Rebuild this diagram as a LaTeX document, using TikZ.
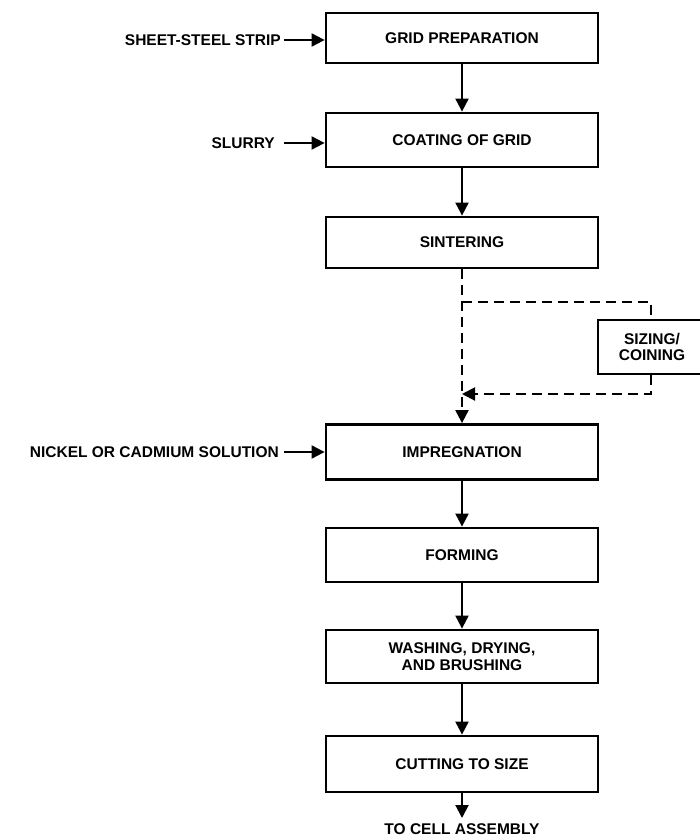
\documentclass[tikz,border=0pt]{standalone}
\usepackage{fontspec}
\setmainfont{Liberation Sans}
\usetikzlibrary{arrows.meta}
\begin{document}
\begin{tikzpicture}[x=1pt,y=-1pt,
  stepbox/.style={draw,line width=2.8pt,minimum width=272pt,inner sep=0pt,align=center,font=\fontsize{15.5}{16.5}\selectfont\bfseries},
  lbl/.style={font=\fontsize{15.5}{16.5}\selectfont\bfseries,inner sep=0pt},
  conn/.style={line width=2pt,-{Triangle[length=13pt,width=13pt]}},
  dconn/.style={line width=2pt,dash pattern=on 10pt off 6pt},
]
\useasboundingbox (0,0) rectangle (700,840);
\node[stepbox,minimum height=50pt] (b1) at (462,38) {GRID PREPARATION};
\node[stepbox,minimum height=54pt] (b2) at (462,140) {COATING OF GRID};
\node[stepbox,minimum height=51pt] (b3) at (462,242.5) {SINTERING};
\node[stepbox,minimum height=55pt] (b4) at (462,452) {IMPREGNATION};
\node[stepbox,minimum height=54pt] (b5) at (462,555) {FORMING};
\node[stepbox,minimum height=53pt] (b6) at (462,656.5) {WASHING, DRYING,\\AND BRUSHING};
\node[stepbox,minimum height=56pt] (b7) at (462,764) {CUTTING TO SIZE};
\node[stepbox,minimum width=108pt,minimum height=54pt,text width=90pt,xshift=0pt] (sz) at (652,347) {SIZING/\\COINING};

\node[lbl,anchor=east] (in1) at (281,40) {SHEET-STEEL STRIP};
\node[lbl,anchor=east] (in2) at (275,143) {SLURRY};
\node[lbl,anchor=east] (in3) at (279,452) {NICKEL OR CADMIUM SOLUTION};
\coordinate (s1) at (284,40);
\coordinate (s2) at (284,143);
\coordinate (s3) at (284,452);
\draw[conn] (s1) -- (b1.west |- s1);
\draw[conn] (s2) -- (b2.west |- s2);
\draw[conn] (s3) -- (b4.west |- s3);

\draw[conn] (b1) -- (b2);
\draw[conn] (b2) -- (b3);
\draw[conn,dash pattern=on 10pt off 6pt] (b3) -- (b4);
\draw[conn] (b4) -- (b5);
\draw[conn] (b5) -- (b6);
\draw[conn] (b6) -- (b7);

\coordinate (d1) at (462,302);
\coordinate (d2) at (651,302);
\coordinate (d3) at (651,394);
\coordinate (d4) at (462,394);
\draw[dconn] (d1) -- (d2) -- (sz.north -| d2);
\draw[dconn,-{Triangle[length=13pt,width=13pt]}] (sz.south -| d3) -- (d3) -- (d4);

\coordinate (out) at (462,818);
\draw[conn] (b7) -- (out);
\node[lbl] (ol) at (462,829) {TO CELL ASSEMBLY};
\end{tikzpicture}
\end{document}
